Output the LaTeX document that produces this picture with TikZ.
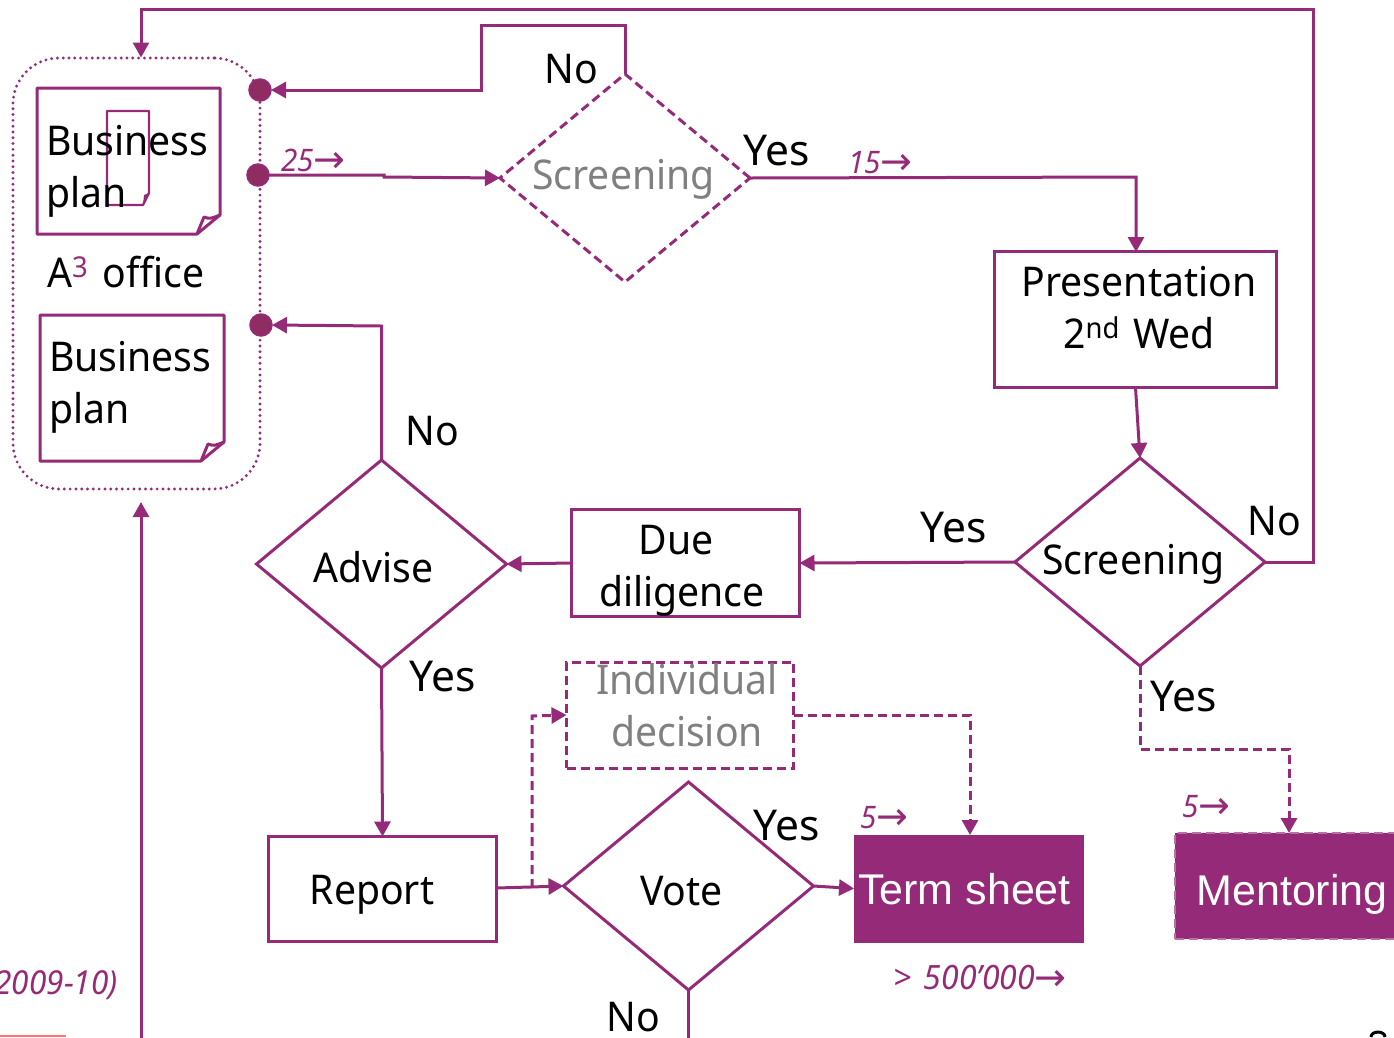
\documentclass[tikz,border=0pt]{standalone}
\usepackage{fontspec}
\setmainfont[FakeStretch=0.955]{Noto Sans}
\newfontfamily\arwfont{DejaVu Sans}
\newfontfamily\arialfont{Liberation Sans}
\newfontfamily\widefont{Noto Sans}
\usetikzlibrary{arrows.meta,shapes.geometric,calc}
\definecolor{plum}{HTML}{952B78}
\definecolor{dotfill}{HTML}{8F2D62}
\definecolor{softplum}{HTML}{B86FA6}
\newcommand\tx[3]{\raisebox{#2pt}[0pt][0pt]{\makebox[0pt][c]{\hspace*{\dimexpr #1pt*2\relax}#3}}}
\newcommand\txl[3]{\raisebox{#2pt}[0pt][0pt]{\makebox[0pt][l]{\hspace*{#1pt}#3}}}
\newcommand\twoc[2]{\begin{tabular}[b]{@{}c@{}}#1\\#2\end{tabular}}
\newcommand\twol[2]{\begin{tabular}[b]{@{}l@{}}#1\\#2\end{tabular}}
\newcommand\rgt{{\arwfont\upshape\fontsize{38}{38}\selectfont\raisebox{-1pt}{→}}}
\newcommand\foldnote[1]{%
  \draw[line width=3pt,plum,line join=round]
    (#1.north west) -- (#1.north east) -- ([yshift=19pt]#1.south east)
    -- ([xshift=-23pt]#1.south east) -- (#1.south west) -- cycle;
  \draw[line width=3pt,plum,line join=round]
    ([xshift=-23pt]#1.south east) -- ([xshift=-16pt,yshift=17pt]#1.south east)
    .. controls ([xshift=-10pt,yshift=15pt]#1.south east) .. ([yshift=19pt]#1.south east);}
\tikzset{
  basefont/.style={font=\fontsize{41}{52}\selectfont},
  flow/.style={line width=3pt,plum,-{Triangle[length=15pt,width=16pt]},line join=miter},
  plain/.style={line width=3pt,plum},
  dashflow/.style={flow,dash pattern=on 9pt off 5pt},
  box/.style={rectangle,draw=plum,line width=3pt,inner sep=0pt,outer sep=0pt,basefont,align=center},
  dashbox/.style={box,dash pattern=on 9pt off 5pt,text=gray},
  solidbox/.style={rectangle,fill=plum,text=white,inner sep=0pt,outer sep=0pt,font=\fontsize{43}{52}\selectfont\arialfont},
  dec/.style={diamond,draw=plum,line width=3pt,inner sep=0pt,outer sep=0pt,shape aspect=1.2,basefont,minimum width=250pt,minimum height=208pt},
  notebox/.style={rectangle,inner sep=0pt,outer sep=0pt,basefont},
  dotnode/.style={circle,fill=dotfill,draw=plum,line width=1.5pt,minimum size=22pt,inner sep=0pt,outer sep=0pt},
  lab/.style={anchor=base,inner sep=0pt,basefont},
  yeslab/.style={anchor=base,inner sep=0pt,font=\fontsize{42.5}{52}\selectfont\widefont},
  ital/.style={anchor=base west,inner sep=0pt,text=plum,font=\fontsize{31}{36}\selectfont\itshape},
}
\begin{document}
\begin{tikzpicture}[x=1pt,y=-1pt]
\useasboundingbox (0,0) rectangle (1394,1037);
\begin{scope}
\clip (0,0) rectangle (1394,1037);

% A3 office container
\node[rectangle,draw=plum,line width=3.2pt,rounded corners=46pt,minimum width=247pt,minimum height=431pt,inner sep=0pt,outer sep=0pt,dash pattern=on 0pt off 5.8pt,line cap=round] (office) at (136.5,273.5) {};

% notes
\node[notebox,minimum width=183pt,minimum height=146pt] (note1) at (128.5,161) {};
\foldnote{note1}
\node[rectangle,inner sep=0pt,outer sep=0pt,minimum width=42pt,minimum height=94pt] (mini) at (128,158) {};
\draw[line width=2.4pt,plum,line join=round] (mini.north west) -- (mini.north east) -- ([yshift=12pt]mini.south east) -- ([xshift=-6pt]mini.south east) -- (mini.south west) -- cycle;
\fill[plum] ([yshift=12pt]mini.south east) -- ([xshift=-6pt]mini.south east) -- ([xshift=-5pt,yshift=10pt]mini.south east) -- cycle;
\node[notebox] (note1text) at (128.5,161) {\txl{-82.5}{-46}{\twol{Business}{plan}}};
\node[notebox,minimum width=184pt,minimum height=146pt] (note2) at (132,388) {\txl{-83}{-35}{\twol{Business}{plan}}};
\foldnote{note2}
\node[lab,anchor=base west] (office label) at (47,287) {A\textsuperscript{\textcolor{plum}{3}}\hspace{4pt} office};

% dots
\node[dotnode] (d1) at (260,90) {};
\node[dotnode] (d2) at (258,175) {};
\node[dotnode] (d3) at (261,325) {};

% decisions
\node[dec,dash pattern=on 9pt off 5pt,text=gray] (s1) at (625,178) {\tx{-1.5}{-11}{Screening}};
\node[dec] (s2) at (1140,562) {\tx{-6.5}{-12}{Screening}};
\node[dec] (adv) at (381.5,564) {\tx{-8}{-18}{Advise}};
\node[dec] (vote) at (688.5,886) {\tx{-7}{-19}{Vote}};

% boxes
\node[box,minimum width=282pt,minimum height=136pt] (pres) at (1135.5,319.5) {\tx{3.5}{-28.5}{\twoc{Presentation}{2\textsuperscript{nd}\hspace{3pt} Wed}}};
\node[box,minimum width=228pt,minimum height=107pt] (due) at (685.5,563) {\tx{-9.5}{-43.5}{\twoc{Due}{\hspace*{12pt}diligence}}};
\node[dashbox,minimum width=227pt,minimum height=106pt] (ind) at (680,715) {\tx{7}{-31}{\twoc{Individual}{decision}}};
\node[box,minimum width=228pt,minimum height=105pt] (rep) at (382.5,889) {\tx{-10.5}{-15.5}{Report}};
\node[solidbox,minimum width=230pt,minimum height=108pt] (term) at (969,888.5) {\tx{-4.5}{-16}{Term sheet}};
\node[solidbox,draw=softplum,line width=2.5pt,dash pattern=on 9pt off 5pt,minimum width=240pt,minimum height=106pt] (ment) at (1295,886) {\tx{-3}{-19}{Mentoring}};

% free ends
\coordinate (bl) at (141,1040);
\coordinate (blend) at (141,502);
\coordinate (vb) at (688.5,1040);
\coordinate (tap) at (532,888);

% connectors
\draw[flow] (s2.east) -- (1313,562) -- (1313,9.5) -- (141,9.5) -- (141,57.5);
\draw[flow] (s1.north) -- (625,25.5) -- (481,25.5) -- (481,90) -- (d1.east);
\draw[flow] (d2.east) -- (384,175) -- (384,177) -- (s1.west);
\draw[flow] (s1.east) -- (1136,177) -- (1136,252);
\draw[flow] (pres.south) -- (s2.north);
\draw[flow] (s2.west) -- (due.east);
\draw[flow] (due.west) -- (adv.east);
\draw[flow] (adv.north) -- (381.5,326) -- (d3.east);
\draw[flow] (adv.south) -- (rep.north);
\draw[flow] (rep.east |- tap) -- (vote.west);
\draw[flow] (vote.east) -- (term.west);
\draw[dashflow] (tap) -- (532,716) -- (ind.west);
\draw[dashflow] (ind.east) -- (970,715) -- (970,835);
\draw[dashflow] (s2.south) -- (1140,749) -- (1289,749) -- (1289,833);
\draw[plain] (vote.south) -- (vb);
\draw[flow] (bl) -- (blend);

% labels
\node[lab] (l1) at (571,83) {No};
\node[yeslab] (l2) at (777,165) {Yes};
\node[lab] (l3) at (432,445) {No};
\node[lab] (l4) at (1274,535) {No};
\node[yeslab] (l5) at (954,542) {Yes};
\node[yeslab] (l6) at (443,691) {Yes};
\node[yeslab] (l7) at (1184,711) {Yes};
\node[yeslab] (l8) at (787,840) {Yes};
\node[lab] (l9) at (633,1031) {No};
\node[ital] (t1) at (281,171) {25\rgt};
\node[ital] (t2) at (848,173) {15\rgt};
\node[ital] (t3) at (860,828) {5\rgt};
\node[ital] (t4) at (1182,817) {5\rgt};
\node[ital,font=\fontsize{33.5}{36}\selectfont\itshape] (t5) at (893,989) {>\hspace{4pt} 500'000\hspace{-1pt}\rgt};
\node[ital,anchor=base east,font=\fontsize{33}{36}\selectfont\itshape] (t6) at (118,994) {2009-10)};

% cropped edge fragments
\draw[line width=2pt,red!55!white] (0,1036) -- (66,1036);
\draw[line width=3pt,black] (1371,1037) arc (180:0:7pt and 5pt);
\end{scope}
\end{tikzpicture}
\end{document}
